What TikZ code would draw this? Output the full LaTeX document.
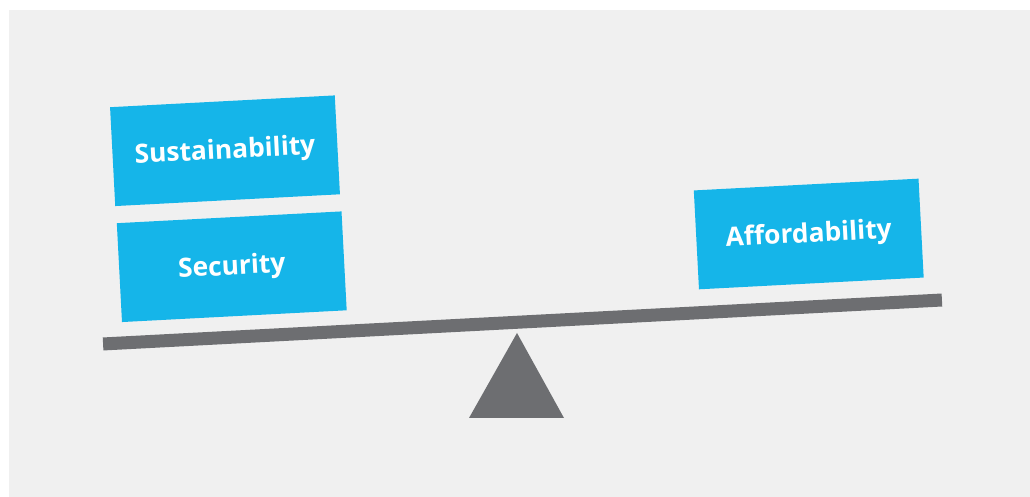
\documentclass[tikz,border=0pt]{standalone}
\usepackage{fontspec}
\setsansfont{Open Sans}
\definecolor{panelgray}{HTML}{F0F0F0}
\definecolor{scalegray}{HTML}{6D6E71}
\definecolor{boxblue}{HTML}{15B5E9}
\def\tilt{3}

\begin{document}
\begin{tikzpicture}
    \tikzstyle{weight}=[rectangle, fill=boxblue, text=white, minimum width=4.5cm, minimum height=1.98cm, inner sep=0pt, text depth=0.5ex, rotate=\tilt, font=\sffamily\bfseries\fontsize{15}{18}\selectfont]
    \tikzstyle{beam}=[rectangle, fill=scalegray, minimum width=16.8cm, minimum height=0.26cm, inner sep=0pt, rotate=\tilt]

    \useasboundingbox (0,0) rectangle (20.6,9.94);
    \fill[panelgray] (0.18,0) rectangle (20.6,9.74);

    % the scale
    \node[beam] (beam) at (10.45,3.5) {};
    \coordinate (pivot) at (10.34,3.28);
    \fill[scalegray] (pivot) -- (9.38,1.58) -- (11.28,1.58) -- cycle;

    % weights on both sides
    \node[weight] (sustain) at (4.5,6.925) {Sustainability};
    \node[weight] (secure) at (4.635,4.605) {Security};
    \node[weight] (afford) at (16.175,5.26) {Affordability};
\end{tikzpicture}
\end{document}
